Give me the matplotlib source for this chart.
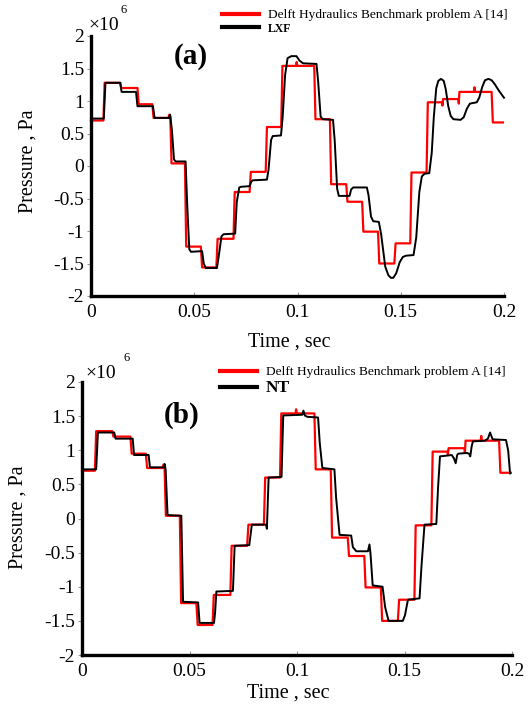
import matplotlib
matplotlib.use("Agg")
import matplotlib.pyplot as plt
import numpy as np

plt.rcParams['font.family'] = ['Liberation Serif', 'DejaVu Serif']

# Delft Hydraulics benchmark (same in both panels), (time s, pressure x1e6 Pa)
benchmark = [
    (0.0, 0.70), (0.0060, 0.70), (0.0066, 1.28), (0.0141, 1.28), (0.0146, 1.20),
    (0.0225, 1.20), (0.0231, 0.95), (0.0297, 0.95), (0.0303, 0.74), (0.0375, 0.74),
    (0.0379, 0.79), (0.0384, 0.76), (0.0390, 0.04), (0.0455, 0.04), (0.0461, -1.24),
    (0.0532, -1.24), (0.0538, -1.56), (0.0607, -1.56), (0.0613, -1.12), (0.0690, -1.12),
    (0.0696, -0.40), (0.0768, -0.40), (0.0774, -0.09), (0.0846, -0.09), (0.0852, 0.60),
    (0.0921, 0.60), (0.0927, 1.54), (0.0993, 1.54), (0.0996, 1.60), (0.0999, 1.54),
    (0.1081, 1.54), (0.1087, 0.72), (0.1157, 0.72), (0.1163, -0.28), (0.1236, -0.28),
    (0.1242, -0.55), (0.1313, -0.55), (0.1319, -1.01), (0.1390, -1.01), (0.1396, -1.50),
    (0.1469, -1.50), (0.1475, -1.19), (0.1546, -1.19), (0.1552, -0.10), (0.1625, -0.10),
    (0.1631, 0.98), (0.1700, 0.98), (0.1702, 0.93), (0.1705, 1.03), (0.1779, 1.03),
    (0.1781, 0.96), (0.1784, 1.14), (0.1854, 1.14), (0.1857, 1.21), (0.1860, 1.14),
    (0.1940, 1.14), (0.1946, 0.67), (0.1995, 0.67),
]

lxf = [
    (0.0, 0.73), (0.0062, 0.73), (0.0070, 1.28), (0.0142, 1.28), (0.0148, 1.14),
    (0.0218, 1.14), (0.0225, 0.92), (0.0300, 0.92), (0.0308, 0.74), (0.0378, 0.74),
    (0.0383, 0.79), (0.0392, 0.55), (0.0402, 0.10), (0.0410, 0.07), (0.0458, 0.07),
    (0.0466, -0.60), (0.0476, -1.28), (0.0484, -1.32), (0.0538, -1.31), (0.0546, -1.50),
    (0.0556, -1.57), (0.0610, -1.57), (0.0618, -1.40), (0.0632, -1.08), (0.0642, -1.05),
    (0.0698, -1.04), (0.0706, -0.55), (0.0718, -0.33), (0.0726, -0.32), (0.0768, -0.31),
    (0.0776, -0.24), (0.0784, -0.22), (0.0852, -0.21), (0.0860, -0.05), (0.0872, 0.40),
    (0.0880, 0.46), (0.0920, 0.47), (0.0928, 0.75), (0.0940, 1.40), (0.0952, 1.66),
    (0.0970, 1.69), (0.0995, 1.69), (0.1010, 1.62), (0.1027, 1.58), (0.1092, 1.57),
    (0.1100, 1.30), (0.1112, 0.76), (0.1122, 0.72), (0.1172, 0.71), (0.1180, 0.40),
    (0.1192, -0.35), (0.1200, -0.46), (0.1252, -0.46), (0.1260, -0.36), (0.1270, -0.33),
    (0.1336, -0.33), (0.1344, -0.45), (0.1356, -0.78), (0.1367, -0.85), (0.1394, -0.86),
    (0.1405, -1.05), (0.1425, -1.55), (0.1440, -1.68), (0.1452, -1.72), (0.1464, -1.72),
    (0.1478, -1.65), (0.1495, -1.48), (0.1510, -1.40), (0.1525, -1.38), (0.1562, -1.37),
    (0.1575, -1.10), (0.1590, -0.40), (0.1602, -0.16), (0.1615, -0.12), (0.1638, -0.11),
    (0.1650, 0.20), (0.1660, 0.75), (0.1672, 1.20), (0.1682, 1.31), (0.1695, 1.34),
    (0.1708, 1.31), (0.1718, 1.18), (0.1730, 0.92), (0.1742, 0.77), (0.1755, 0.72),
    (0.1790, 0.71), (0.1805, 0.75), (0.1820, 0.88), (0.1835, 0.96), (0.1868, 0.98),
    (0.1880, 1.05), (0.1895, 1.22), (0.1908, 1.32), (0.1925, 1.34), (0.1940, 1.32),
    (0.1955, 1.26), (0.1975, 1.16), (0.2000, 1.05),
]

nt = [
    (0.0, 0.72), (0.0066, 0.72), (0.0074, 1.26), (0.0150, 1.26), (0.0156, 1.17),
    (0.0236, 1.17), (0.0242, 0.93), (0.0310, 0.93), (0.0316, 0.75), (0.0380, 0.75),
    (0.0384, 0.80), (0.0389, 0.72), (0.0398, 0.05), (0.0462, 0.04), (0.0470, -1.22),
    (0.0540, -1.23), (0.0547, -1.53), (0.0614, -1.53), (0.0619, -1.38), (0.0625, -1.07),
    (0.0702, -1.06), (0.0710, -0.40), (0.0778, -0.39), (0.0790, -0.09), (0.0856, -0.09),
    (0.0860, -0.15), (0.0868, 0.60), (0.0928, 0.61), (0.0936, 1.51), (0.1024, 1.52),
    (0.1030, 1.58), (0.1036, 1.51), (0.1048, 1.49), (0.1098, 1.48), (0.1106, 1.10),
    (0.1118, 0.74), (0.1174, 0.72), (0.1182, 0.30), (0.1198, -0.24), (0.1252, -0.25),
    (0.1260, -0.42), (0.1276, -0.48), (0.1330, -0.48), (0.1337, -0.38), (0.1342, -0.52),
    (0.1352, -0.98), (0.1398, -1.00), (0.1410, -1.30), (0.1426, -1.50), (0.1492, -1.50),
    (0.1502, -1.42), (0.1516, -1.19), (0.1570, -1.17), (0.1579, -0.70), (0.1593, -0.09),
    (0.1648, -0.08), (0.1656, 0.45), (0.1665, 0.91), (0.1720, 0.93), (0.1730, 0.88),
    (0.1738, 0.81), (0.1745, 0.93), (0.1750, 0.95), (0.1790, 0.96), (0.1800, 0.95),
    (0.1806, 0.91), (0.1812, 1.05), (0.1818, 1.13), (0.1874, 1.14), (0.1888, 1.17),
    (0.1898, 1.26), (0.1910, 1.16), (0.1972, 1.15), (0.1982, 1.00), (0.1991, 0.66),
]

ref_label = "Delft Hydraulics Benchmark problem A [14]"
x_ticks = [0, 0.05, 0.1, 0.15, 0.2]
x_tick_labels = ["0", "0.05", "0.1", "0.15", "0.2"]
y_ticks = [-2, -1.5, -1, -0.5, 0, 0.5, 1, 1.5, 2]
y_tick_labels = ["-2", "-1.5", "-1", "-0.5", "0", "0.5", "1", "1.5", "2"]

W, H = 529, 705
fig = plt.figure(figsize=(W / 100, H / 100), dpi=100)


def px_box(left, top, right, bottom):
    return [left / W, 1 - bottom / H, (right - left) / W, (bottom - top) / H]


def setup(ax, ylab_x, ylab_y, xlab_y):
    ax.set_xlim(0, 0.2)
    ax.set_ylim(-2, 2)
    ax.spines['top'].set_visible(False)
    ax.spines['right'].set_visible(False)
    for s in ('left', 'bottom'):
        ax.spines[s].set_linewidth(2.4)
    ax.set_xticks(x_ticks)
    ax.set_xticklabels(x_tick_labels)
    ax.set_yticks(y_ticks)
    ax.set_yticklabels(y_tick_labels)
    ax.tick_params(axis='x', direction='in', length=3, width=0.8, color='#999999',
                   labelsize=14, pad=6)
    ax.tick_params(axis='y', direction='out', length=3, width=0.8, color='#999999',
                   labelsize=14, pad=2)
    ax.set_ylabel("Pressure , Pa", fontsize=14.5, va='center')
    ax.yaxis.set_label_coords(ylab_x, ylab_y)
    ax.set_xlabel("Time , sec", fontsize=14.5, va='center')
    ax.xaxis.set_label_coords(0.48, xlab_y)


def draw(ax, model, model_label, anchor_px, model_size):
    b = np.array(benchmark)
    m = np.array(model)
    ax.plot(b[:, 0], b[:, 1], color='#ff0000', lw=1.6, label=ref_label, clip_on=False)
    ax.plot(m[:, 0], m[:, 1], color='black', lw=1.4, label=model_label, clip_on=False)
    leg = ax.legend(loc='upper left', bbox_to_anchor=(anchor_px[0] / W, 1 - anchor_px[1] / H),
                    bbox_transform=fig.transFigure, frameon=False, fontsize=9.6,
                    handlelength=2.8, handletextpad=0.65, borderpad=0, borderaxespad=0,
                    labelspacing=0.1)
    for line in leg.get_lines():
        line.set_linewidth(3)
    t = leg.get_texts()[1]
    t.set_fontweight('bold')
    t.set_fontsize(model_size)


# panel (a)
ax1 = fig.add_axes(px_box(91, 36, 504, 296))
setup(ax1, -0.153, 0.52, -0.177)
draw(ax1, lxf, "LXF", (222, 9), 8.5)
fig.text(191 / W, 1 - 57 / H, "(a)", fontsize=21, fontweight='bold', ha='center', va='center')
fig.text(104 / W, 1 - 25 / H, "\u00d710", fontsize=14, ha='center', va='center')
fig.text(124 / W, 1 - 10 / H, "6", fontsize=9, ha='center', va='center')

# panel (b)
ax2 = fig.add_axes(px_box(82, 382, 512, 655))
setup(ax2, -0.149, 0.505, -0.139)
draw(ax2, nt, "NT", (220, 366), 12.5)
fig.text(182 / W, 1 - 415 / H, "(b)", fontsize=21, fontweight='bold', ha='center', va='center')
fig.text(101 / W, 1 - 373 / H, "\u00d710", fontsize=14, ha='center', va='center')
fig.text(127 / W, 1 - 358 / H, "6", fontsize=9, ha='center', va='center')

fig.savefig("out.png", dpi=100)
